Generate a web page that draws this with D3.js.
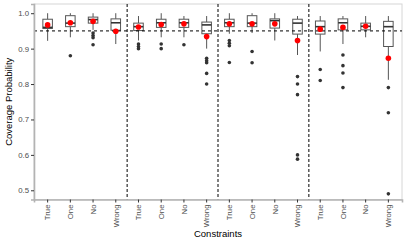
<!DOCTYPE html>
<html>
<head>
<meta charset="utf-8">
<script src="https://cdn.jsdelivr.net/npm/d3@7"></script>
<style>
  body { margin: 0; background: #fff; }
  text { font-family: "Liberation Sans", Arial, sans-serif; }
</style>
</head>
<body>
<div id="chart"></div>
<script>
// chart size
var w = 407;
var h = 242;
var margin = {top: 4, right: 5, bottom: 42.5, left: 34};

// data
var categories = ["True", "One", "No", "Wrong", "True", "One", "No", "Wrong",
                  "True", "One", "No", "Wrong", "True", "One", "No", "Wrong"];
var whiskerHigh = [1.0, 1.0, 1.0, 1.0,   0.992, 1.0, 0.992, 0.992,   1.0, 1.0, 1.0, 0.992,   0.992, 0.992, 0.992, 0.992];
var q3          = [0.983, 0.993, 0.989, 0.984,   0.972, 0.983, 0.983, 0.975,   0.983, 0.993, 0.984, 0.983,   0.978, 0.984, 0.972, 0.977];
var medians     = [0.960, 0.972, 0.982, 0.973,   0.962, 0.973, 0.973, 0.967,   0.973, 0.972, 0.979, 0.972,   0.962, 0.973, 0.963, 0.962];
var q1          = [0.957, 0.962, 0.972, 0.952,   0.951, 0.960, 0.960, 0.942,   0.962, 0.962, 0.958, 0.941,   0.941, 0.953, 0.953, 0.906];
var whiskerLow  = [0.922, 0.932, 0.953, 0.913,   0.923, 0.932, 0.932, 0.900,   0.942, 0.944, 0.923, 0.882,   0.892, 0.913, 0.932, 0.812];
var means       = [0.967, 0.973, 0.977, 0.949,   0.961, 0.968, 0.970, 0.934,   0.970, 0.970, 0.970, 0.923,   0.955, 0.960, 0.963, 0.873];
var outliers = [
    [], [0.88], [0.944, 0.937, 0.931, 0.911], [],
    [0.913, 0.906, 0.900], [0.913, 0.900], [0.911], [0.873, 0.866, 0.860, 0.830, 0.800],
    [0.923, 0.915, 0.908, 0.861], [0.892, 0.860], [], [0.821, 0.800, 0.770, 0.600, 0.588],
    [0.841, 0.810], [0.882, 0.852, 0.831, 0.790], [], [0.790, 0.719, 0.490]
];
var yTicks = [0.5, 0.6, 0.7, 0.8, 0.9, 1.0];
var refLine = 0.95;
var groupBreaks = [4, 8, 12];  // index of first box in each new group

var idx = d3.range(categories.length);

var svg = d3.select("#chart")
    .append("svg")
    .attr("width", w)
    .attr("height", h);

var xScale = d3.scaleBand()
    .domain(idx)
    .range([margin.left, w - margin.right])
    .paddingInner(0)
    .paddingOuter(0.1);

var yScale = d3.scaleLinear()
    .domain([0.474, 1.026])
    .range([h - margin.bottom, margin.top]);

var bw = xScale.bandwidth() * 0.42;
function cx(i) { return xScale(i) + xScale.bandwidth() / 2; }

// panel border (light)
svg.append("rect")
    .attr("x", margin.left)
    .attr("y", margin.top)
    .attr("width", w - margin.left - margin.right)
    .attr("height", h - margin.top - margin.bottom)
    .attr("fill", "none")
    .attr("stroke", "#d6d6d6")
    .attr("stroke-width", 1);

// boxes
var box = svg.selectAll("g.box")
    .data(idx)
    .enter()
    .append("g")
    .attr("class", "box");

box.append("line")
    .attr("x1", cx).attr("x2", cx)
    .attr("y1", function(i) { return yScale(whiskerHigh[i]); })
    .attr("y2", function(i) { return yScale(q3[i]); })
    .attr("stroke", "#555").attr("stroke-width", 1);

box.append("line")
    .attr("x1", cx).attr("x2", cx)
    .attr("y1", function(i) { return yScale(q1[i]); })
    .attr("y2", function(i) { return yScale(whiskerLow[i]); })
    .attr("stroke", "#555").attr("stroke-width", 1);

box.append("rect")
    .attr("x", function(i) { return cx(i) - bw / 2; })
    .attr("y", function(i) { return yScale(q3[i]); })
    .attr("width", bw)
    .attr("height", function(i) { return yScale(q1[i]) - yScale(q3[i]); })
    .attr("fill", "#fff")
    .attr("stroke", "#555")
    .attr("stroke-width", 1);

box.append("line")
    .attr("x1", function(i) { return cx(i) - bw / 2; })
    .attr("x2", function(i) { return cx(i) + bw / 2; })
    .attr("y1", function(i) { return yScale(medians[i]); })
    .attr("y2", function(i) { return yScale(medians[i]); })
    .attr("stroke", "#333").attr("stroke-width", 1.6);

// outlier points
box.selectAll("circle.out")
    .data(function(i) { return outliers[i].map(function(v) { return {i: i, v: v}; }); })
    .enter()
    .append("circle")
    .attr("class", "out")
    .attr("cx", function(d) { return cx(d.i); })
    .attr("cy", function(d) { return yScale(d.v); })
    .attr("r", 1.8)
    .attr("fill", "#333");

// reference lines
svg.append("line")
    .attr("x1", margin.left).attr("x2", w - margin.right)
    .attr("y1", yScale(refLine)).attr("y2", yScale(refLine))
    .attr("stroke", "#000").attr("stroke-width", 1)
    .attr("stroke-dasharray", "3,3");

svg.selectAll("line.vbreak")
    .data(groupBreaks)
    .enter()
    .append("line")
    .attr("class", "vbreak")
    .attr("x1", function(b) { return xScale(b); })
    .attr("x2", function(b) { return xScale(b); })
    .attr("y1", margin.top).attr("y2", h - margin.bottom)
    .attr("stroke", "#000").attr("stroke-width", 1)
    .attr("stroke-dasharray", "3,2");

// means
svg.selectAll("circle.mean")
    .data(idx)
    .enter()
    .append("circle")
    .attr("class", "mean")
    .attr("cx", cx)
    .attr("cy", function(i) { return yScale(means[i]); })
    .attr("r", 2.8)
    .attr("fill", "#ff0000");

// axes
var yAxis = d3.axisLeft(yScale)
    .tickValues(yTicks)
    .tickFormat(d3.format(".1f"))
    .tickSize(3)
    .tickPadding(2);

var gy = svg.append("g")
    .attr("transform", "translate(" + margin.left + ",0)")
    .call(yAxis);

var xAxis = d3.axisBottom(xScale)
    .tickFormat(function(i) { return categories[i]; })
    .tickSize(3)
    .tickPadding(2);

var gx = svg.append("g")
    .attr("transform", "translate(0," + (h - margin.bottom) + ")")
    .call(xAxis);

gx.selectAll("text")
    .attr("transform", "rotate(-90)")
    .attr("text-anchor", "end")
    .attr("x", -5)
    .attr("y", 0)
    .attr("dy", "0.35em");

[gx, gy].forEach(function(g) {
    g.select(".domain").attr("stroke", "#b3b3b3").attr("stroke-width", 1.6);
    g.selectAll(".tick line").attr("stroke", "#333");
    g.selectAll(".tick text").attr("fill", "#4d4d4d").style("font-size", "7.8px");
});

// titles
svg.append("text")
    .attr("x", (margin.left + w - margin.right) / 2)
    .attr("y", 237)
    .attr("text-anchor", "middle")
    .style("font-size", "9.5px")
    .text("Constraints");

svg.append("text")
    .attr("transform", "translate(12," + ((margin.top + h - margin.bottom) / 2) + ") rotate(-90)")
    .attr("text-anchor", "middle")
    .style("font-size", "9.5px")
    .text("Coverage Probability");
</script>
</body>
</html>
